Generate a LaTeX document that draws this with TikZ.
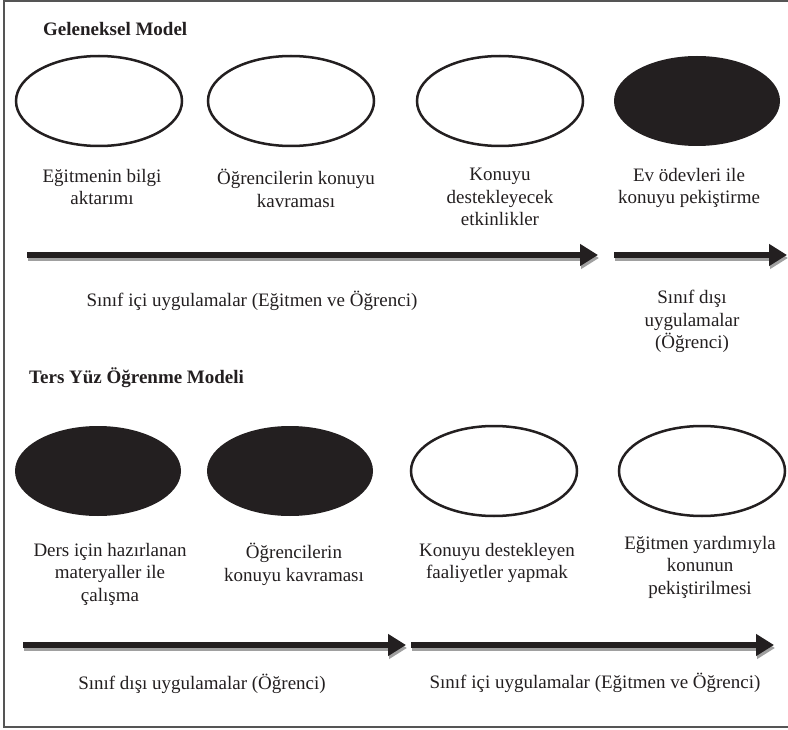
\documentclass[tikz,border=0pt]{standalone}
\usepackage{fontspec}
\setmainfont{Liberation Serif}
\usetikzlibrary{shapes.geometric,arrows.meta}
\definecolor{ink}{HTML}{231F20}
\definecolor{framec}{HTML}{555555}
\definecolor{shade}{HTML}{A0A0A0}
\begin{document}
\begin{tikzpicture}[x=1pt,y=-1pt,
  oval/.style={ellipse, minimum width=166pt, minimum height=90pt, inner sep=0pt},
  openoval/.style={oval, draw=ink, line width=2.5pt, fill=white},
  fulloval/.style={oval, fill=ink},
  lbl/.style={font=\fontsize{19}{22.5}\selectfont, text=ink, align=center,
    inner sep=0pt, anchor=north, execute at begin node={\rule{0pt}{19pt}}},
  ttl/.style={font=\fontsize{19}{22.5}\selectfont\bfseries, text=ink,
    inner sep=0pt, anchor=base west},
  arr/.style={line width=6.5pt, draw=ink, -{Triangle[length=18pt,width=21pt]}},
  arrshadow/.style={arr, draw=shade, fill=shade, transform canvas={xshift=1pt,yshift=-3pt}}]
\useasboundingbox (0,0) rectangle (788,730);
\fill[white] (0,0) rectangle (788,730);

% frame (open on the right)
\draw[framec, line width=1.5pt] (788,1) -- (4,1) -- (4,727) -- (788,727);

% ---------- Geleneksel Model ----------
\node[ttl] (t1) at (43,36) {Geleneksel Model};

\node[openoval] (g1) at (99,101) {};
\node[openoval] (g2) at (291,101) {};
\node[openoval] (g3) at (500,101) {};
\node[fulloval] (g4) at (697,101) {};

\node[lbl] (gl1) at (102,169) {Eğitmenin bilgi\\aktarımı};
\node[lbl] (gl2) at (296,169) {Öğrencilerin konuyu\\kavraması};
\node[lbl] (gl3) at (500,168) {Konuyu\\destekleyecek\\etkinlikler};
\node[lbl] (gl4) at (689,168) {Ev ödevleri ile\\konuyu pekiştirme};

\coordinate (a1s) at (27,255);
\coordinate (a1e) at (598,255);
\coordinate (a2s) at (614,255);
\coordinate (a2e) at (787,255);
\draw[arrshadow] (a1s) -- (a1e);
\draw[arrshadow] (a2s) -- (a2e);
\draw[arr] (a1s) -- (a1e);
\draw[arr] (a2s) -- (a2e);

\node[lbl] (gs1) at (252,287) {Sınıf içi uygulamalar (Eğitmen ve Öğrenci)};
\node[lbl] (gs2) at (692,290) {Sınıf dışı\\uygulamalar\\(Öğrenci)};

% ---------- Ters Yüz Öğrenme Modeli ----------
\node[ttl] (t2) at (29,384) {Ters Yüz Öğrenme Modeli};

\node[fulloval] (f1) at (98,471) {};
\node[fulloval] (f2) at (290,471) {};
\node[openoval] (f3) at (494,471) {};
\node[openoval] (f4) at (702,471) {};

\node[lbl] (fl1) at (110,543) {Ders için hazırlanan\\materyaller ile\\çalışma};
\node[lbl] (fl2) at (294,543) {Öğrencilerin\\konuyu kavraması};
\node[lbl] (fl3) at (497,543) {Konuyu destekleyen\\faaliyetler yapmak};
\node[lbl] (fl4) at (700,536) {Eğitmen yardımıyla\\konunun\\pekiştirilmesi};

\coordinate (b1s) at (23,645);
\coordinate (b1e) at (406,645);
\coordinate (b2s) at (411,645);
\coordinate (b2e) at (774,645);
\draw[arrshadow] (b1s) -- (b1e);
\draw[arrshadow] (b2s) -- (b2e);
\draw[arr] (b1s) -- (b1e);
\draw[arr] (b2s) -- (b2e);

\node[lbl] (fs1) at (202,670) {Sınıf dışı uygulamalar (Öğrenci)};
\node[lbl] (fs2) at (595,669) {Sınıf içi uygulamalar (Eğitmen ve Öğrenci)};
\end{tikzpicture}
\end{document}
